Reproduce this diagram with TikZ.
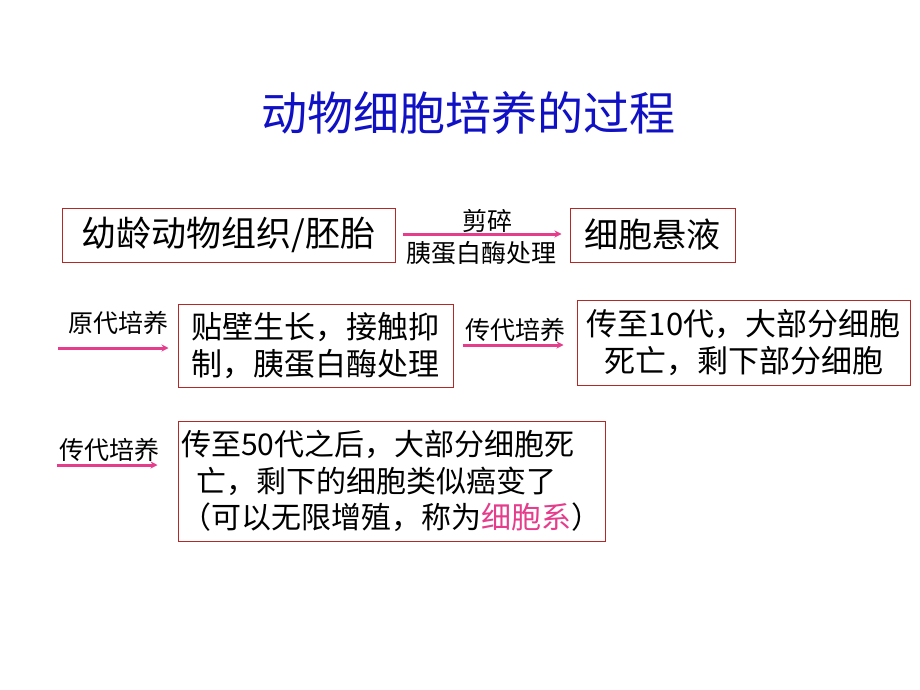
\documentclass[tikz,border=0pt]{standalone}
\usepackage{fontspec}
\newfontfamily\cjk{Noto Sans CJK SC}
\usetikzlibrary{arrows.meta}
\definecolor{titleblue}{RGB}{16,16,196}
\definecolor{boxred}{RGB}{180,40,40}
\definecolor{arrowpink}{RGB}{230,60,140}
\tikzset{
  stagebox/.style={draw=boxred, line width=1pt, inner sep=2pt, font=\cjk\fontsize{31}{37}\selectfont, align=center},
  steplabel/.style={inner sep=0pt, font=\cjk\fontsize{25}{30}\selectfont},
  pinkarrow/.style={draw=arrowpink, line width=3pt, -{Stealth[length=7pt,width=7pt]}}
}
\begin{document}
\begin{tikzpicture}[x=1pt,y=-1pt]
\useasboundingbox[fill=white] (0,0) rectangle (920,690);
\node[font=\cjk\fontsize{46}{50}\selectfont, text=titleblue] (title) at (468,113) {动物细胞培养的过程};

\node[stagebox, minimum width=333pt, minimum height=54pt, font=\cjk\fontsize{35}{40}\selectfont] (b1) at (228.5,235) {幼龄动物组织/胚胎};
\node[stagebox, minimum width=165pt, minimum height=54pt, font=\cjk\fontsize{34}{40}\selectfont] (b2) at (652.5,235) {细胞悬液};
\draw[pinkarrow] ([xshift=7pt,yshift=1pt]b1.east) -- ([xshift=-8pt,yshift=1pt]b2.west);
\node[steplabel] (l1a) at (487,221) {剪碎};
\node[steplabel] (l1b) at (481,253) {胰蛋白酶处理};

\node[steplabel] (l2) at (118,323) {原代培养};
\node[stagebox, minimum width=275pt, minimum height=83pt] (b3) at (315.5,345.5) {贴壁生长，接触抑\\制，胰蛋白酶处理};
\coordinate (a2s) at (58,348);
\draw[pinkarrow] (a2s) -- ([xshift=-9pt]b3.west |- a2s);

\node[steplabel] (l3) at (515,330) {传代培养};
\node[stagebox, minimum width=333pt, minimum height=85pt] (b4) at (743.5,342.5) {传至10代，大部分细胞\\死亡，剩下部分细胞};
\coordinate (a3s) at (463,345);
\draw[pinkarrow] (a3s) -- ([xshift=-13pt]b4.west |- a3s);

\node[steplabel] (l4) at (109.5,450) {传代培养};
\node[stagebox, minimum width=427pt, minimum height=120pt, text width=421pt, align=left, font=\cjk\fontsize{30}{36.5}\selectfont] (b5) at (391.5,481) {传至50代之后，大部分细胞死\\\hspace*{0.5em}亡，剩下的细胞类似癌变了\\（可以无限增殖，称为\textcolor{arrowpink}{细胞系}）};
\coordinate (a4s) at (57,465);
\draw[pinkarrow] (a4s) -- ([xshift=-20pt]b5.west |- a4s);
\end{tikzpicture}
\end{document}
